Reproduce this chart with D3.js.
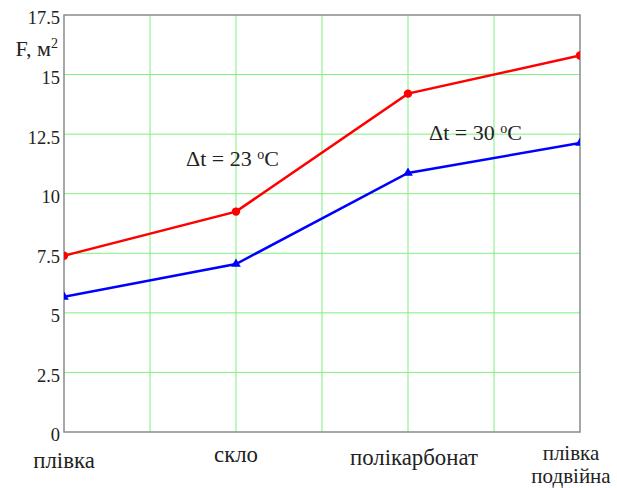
<!DOCTYPE html>
<meta charset="utf-8">
<style>
body { margin: 0; background: #fff; }
text { font-family: "Liberation Serif", "Times New Roman", serif; font-size: 22px; fill: #222; }
text.tick { font-size: 18.5px; }
text.cat { font-size: 22.8px; }
text.cat2 { font-size: 21px; }
</style>
<body>
<script src="https://d3js.org/d3.v7.min.js"></script>
<script>

var categories = ["плівка", "скло", "полікарбонат", "плівка подвійна"];
var red = [7.4, 9.25, 14.2, 15.8];    // Δt = 23 °C
var blue = [5.67, 7.05, 10.87, 12.13]; // Δt = 30 °C
var yTicks = [0, 2.5, 5, 7.5, 10, 12.5, 15, 17.5];

var margin = {top: 15, right: 37, bottom: 56, left: 64},
    width = 617 - margin.left - margin.right,
    height = 488 - margin.top - margin.bottom;

var x = d3.scaleLinear().domain([0, 3]).range([0, width]);
var y = d3.scaleLinear().domain([0, 17.5]).range([height, 0]);

var svg = d3.select('body').append('svg')
    .attr('width', 617)
    .attr('height', 488)
  .append('g')
    .attr('transform', 'translate(' + margin.left + ',' + margin.top + ')');

svg.append('clipPath').attr('id', 'clip')
  .append('rect').attr('width', width).attr('height', height);

// grid
svg.selectAll('.vgrid')
    .data(d3.range(0.5, 3, 0.5))
  .enter().append('line')
    .attr('x1', function(d) { return x(d); })
    .attr('x2', function(d) { return x(d); })
    .attr('y1', 0).attr('y2', height)
    .attr('stroke', '#7ff07f').attr('stroke-width', 1);

svg.selectAll('.hgrid')
    .data(yTicks.slice(1, -1))
  .enter().append('line')
    .attr('y1', function(d) { return y(d); })
    .attr('y2', function(d) { return y(d); })
    .attr('x1', 0).attr('x2', width)
    .attr('stroke', '#7ff07f').attr('stroke-width', 1);

// frame
svg.append('rect')
    .attr('width', width).attr('height', height)
    .attr('fill', 'none').attr('stroke', '#8a8a8a').attr('stroke-width', 1.5);

// y tick labels
svg.selectAll('.ylab')
    .data(yTicks)
  .enter().append('text')
    .attr('class', 'tick')
    .attr('x', -4)
    .attr('y', function(d) { return y(d) + 3; })
    .attr('dy', '0.35em')
    .attr('text-anchor', 'end')
    .text(function(d) { return d; });

var yt = svg.append('text').attr('x', -6).attr('y', 56 - margin.top).attr('text-anchor', 'end');
yt.append('tspan').text('F, м');
yt.append('tspan').attr('dy', -8).style('font-size', '14px').text('2');

// x category labels (baselines as placed in the original)
var labelY = [468, 462, 465, 460];
var labelDx = [0, 0, 6, -9];
svg.selectAll('.xlab')
    .data(categories)
  .enter().append('text')
    .attr('class', function(d) { return d.indexOf(' ') > 0 ? 'cat2' : 'cat'; })
    .attr('x', function(d, i) { return x(i) + labelDx[i]; })
    .attr('y', function(d, i) { return labelY[i] - margin.top; })
    .attr('text-anchor', 'middle')
    .each(function(d) {
      var parts = d.split(' ');
      var t = d3.select(this);
      parts.forEach(function(p, j) {
        t.append('tspan')
          .attr('x', t.attr('x'))
          .attr('dy', j === 0 ? 0 : 23)
          .text(p);
      });
    });

var line = d3.line()
    .x(function(d, i) { return x(i); })
    .y(function(d) { return y(d); });

var plot = svg.append('g').attr('clip-path', 'url(#clip)');

plot.append('path').datum(red)
    .attr('d', line).attr('fill', 'none')
    .attr('stroke', '#ff0000').attr('stroke-width', 2.5);
plot.append('path').datum(blue)
    .attr('d', line).attr('fill', 'none')
    .attr('stroke', '#0000ff').attr('stroke-width', 2.5);

plot.selectAll('.rdot').data(red)
  .enter().append('circle')
    .attr('cx', function(d, i) { return x(i); })
    .attr('cy', function(d) { return y(d); })
    .attr('r', 4.2)
    .attr('fill', '#ff0000');

var tri = d3.symbol().type(d3.symbolTriangle).size(40);
plot.selectAll('.btri').data(blue)
  .enter().append('path')
    .attr('d', tri)
    .attr('transform', function(d, i) { return 'translate(' + x(i) + ',' + y(d) + ')'; })
    .attr('fill', '#0000ff');

// annotations
function note(tx, ty, val) {
  var t = svg.append('text').attr('x', tx).attr('y', ty);
  t.append('tspan').text('Δt = ' + val + ' ');
  t.append('tspan').attr('dy', -7).style('font-size', '14px').text('o');
  t.append('tspan').attr('dy', 7).text('C');
}
note(186 - margin.left, 166 - margin.top, 23);
note(429 - margin.left, 140 - margin.top, 30);

</script>
</body>
